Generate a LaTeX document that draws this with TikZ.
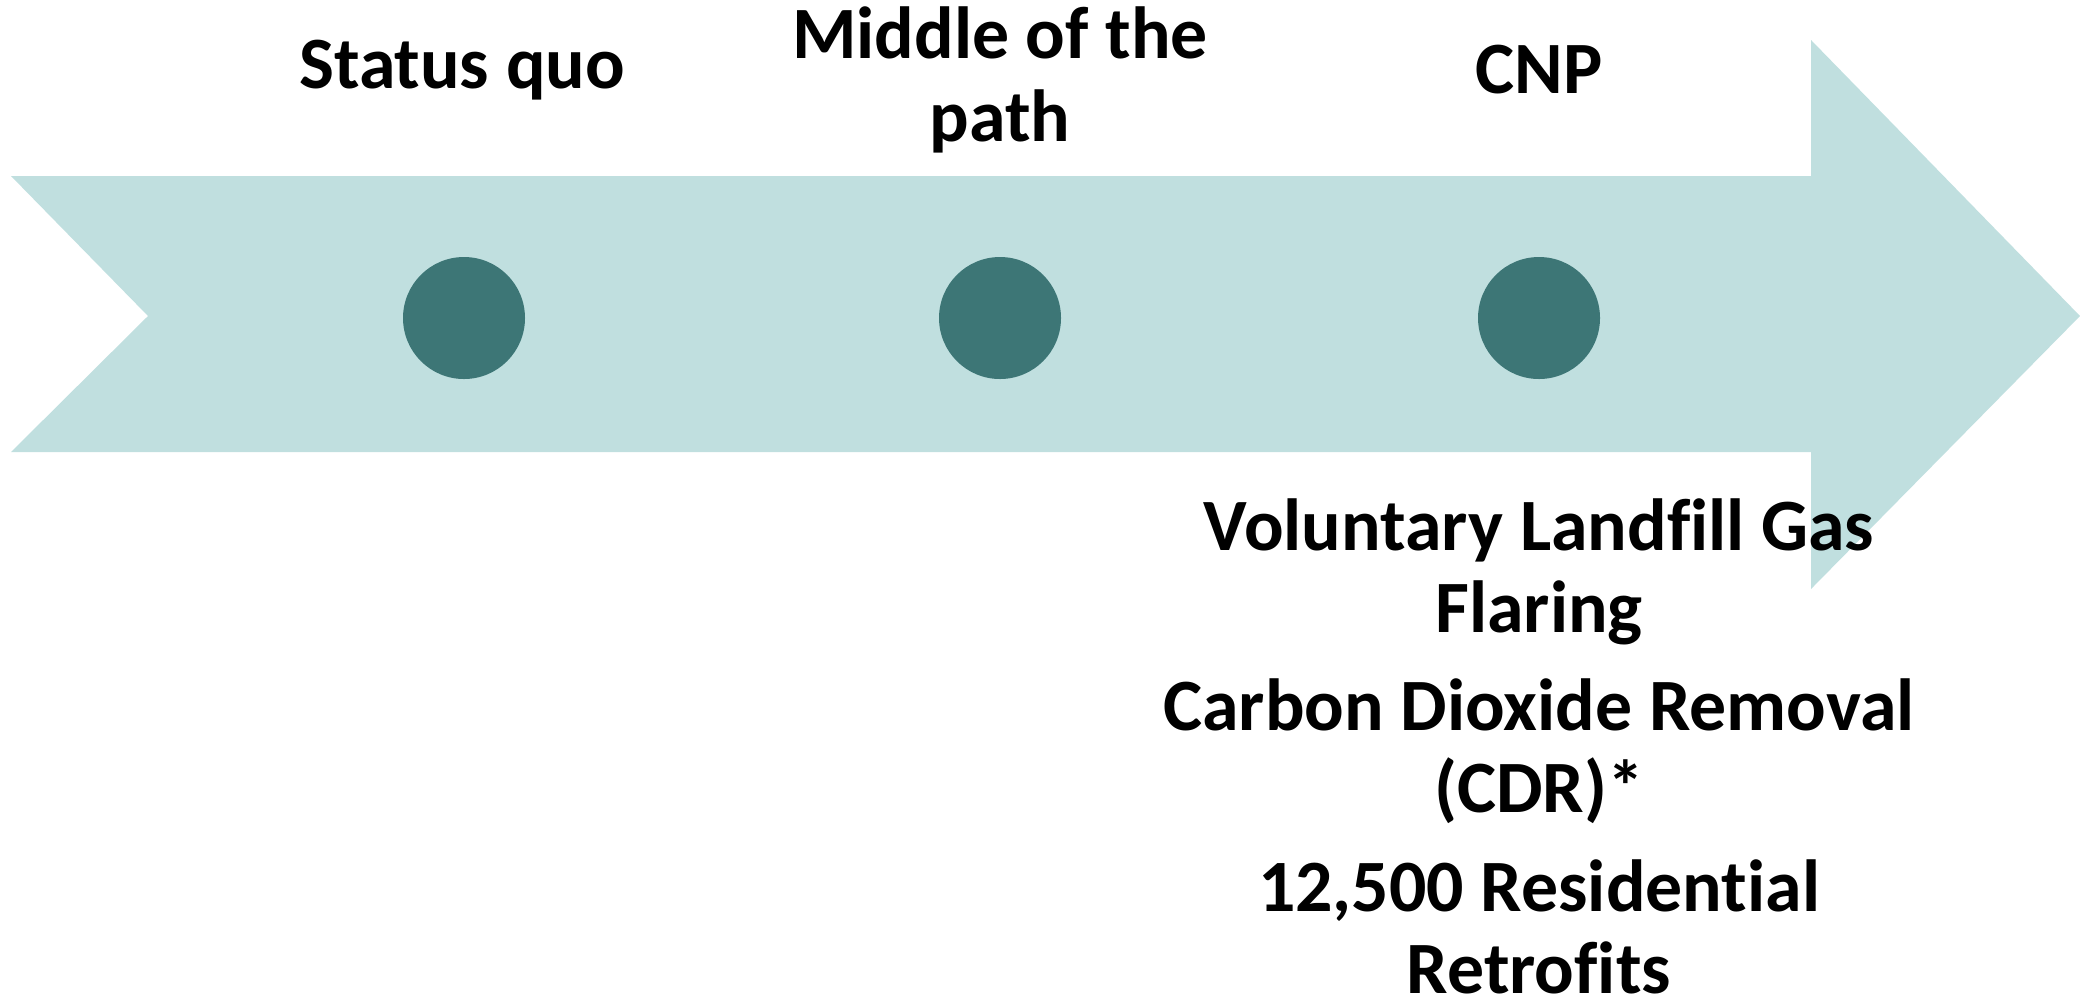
\documentclass[tikz,border=0pt]{standalone}
\usepackage{fontspec}
\setmainfont{Carlito}[Ligatures=CommonOff]
\usepackage{tikz}
\usetikzlibrary{positioning, calc}

\definecolor{bandfill}{HTML}{C0DFDF}
\definecolor{dotfill}{HTML}{3D7676}
\newcommand{\nolig}{\kern0pt}

\begin{document}
\begin{tikzpicture}[
        x=0.1mm, y=-0.1mm,
        dot/.style={circle, fill=dotfill, minimum size=1.22cm, inner sep=0pt},
        phase/.style={align=center, font=\fontsize{21}{23.5}\selectfont\bfseries, inner sep=0pt},
        item/.style={align=center, font=\fontsize{21}{23.5}\selectfont\bfseries, inner sep=0pt}
    ]
        \useasboundingbox (0,0) rectangle (2080,1003);

        % --- BAND ---
        \fill[bandfill] (11,176) -- (1811,176) -- (1811,40) -- (2080,316)
            -- (1811,589) -- (1811,452) -- (11,452) -- (148,316) -- cycle;

        % --- MILESTONES ---
        \node[dot] (statusquo) at (464,318) {};
        \node[dot] (middle) at (1000,318) {};
        \node[dot] (cnp) at (1539,318) {};

        % --- PHASE LABELS ---
        \node[phase] (statusquo_lbl) at (462,70) {Status quo};
        \node[phase] (middle_lbl) at (1000,80) {Middle of the\\path};
        \node[phase] (cnp_lbl) at (1539,70) {CNP};

        % --- CNP MEASURES ---
        \node[item] (flaring) at (1539,572) {Voluntary Landf\nolig ill Gas\\Flaring};
        \node[item] (cdr) at (1539,751) {Carbon Dioxide Removal\\(CDR)*};
        \node[item] (retrofits) at (1539,927) {12,500 Residential\\Retrof\nolig its};

    \end{tikzpicture}
\end{document}
